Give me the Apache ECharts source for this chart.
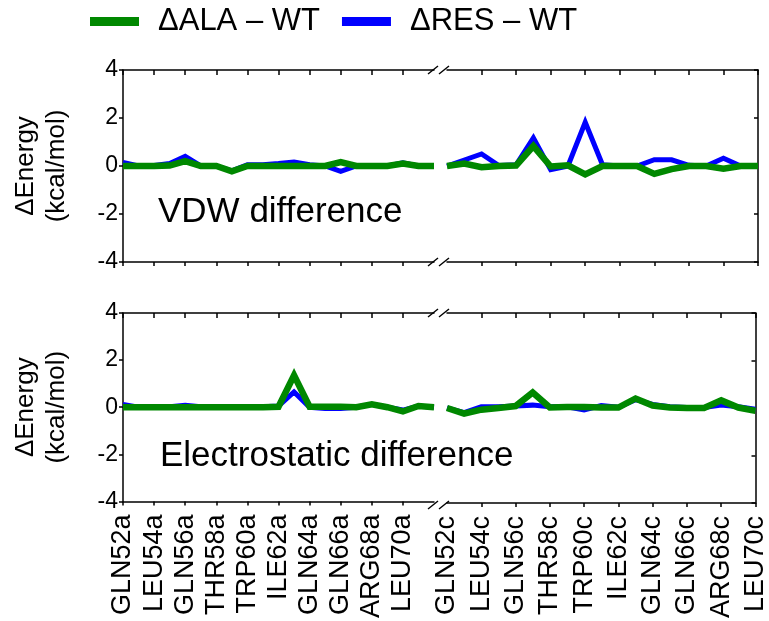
<!DOCTYPE html>
<head>
    <meta charset="utf-8"/>
    <style>
        html,body { margin:0; padding:0; background:#fff; }
    </style>
</head>
<body>
<div id="chart" style="width:769px;height:621px;"></div>

<script src="https://cdn.jsdelivr.net/npm/echarts@6/dist/echarts.min.js"></script>
<script type="text/javascript">

// residue numbers, chain a (left part) and chain c (right part)
var resA = [52,53,54,55,56,57,58,59,60,61,62,63,64,65,66,67,68,69,70,71,72];
var resC = [52,53,54,55,56,57,58,59,60,61,62,63,64,65,66,67,68,69,70];

// tick labels
var tickA = [52,54,56,58,60,62,64,66,68,70];
var labelA = ['GLN52a','LEU54a','GLN56a','THR58a','TRP60a','ILE62a','GLN64a','GLN66a','ARG68a','LEU70a'];
var tickC = [54,56,58,60,62,64,66,68,70];
var labelC = ['GLN52c','LEU54c','GLN56c','THR58c','TRP60c','ILE62c','GLN64c','GLN66c','ARG68c','LEU70c'];
var labelTickC = [52,54,56,58,60,62,64,66,68,70];

// VDW difference (kcal/mol)
var vdwAlaA = [0,0,0,0.02,0.2,0,0,-0.22,0,0,0,0,0,0,0.16,0,0,0,0.1,0,0];
var vdwResA = [0.15,0,0.02,0.1,0.4,0,0,-0.2,0.05,0.05,0.1,0.17,0.05,0,-0.22,0,0,0,0.13,0,0];
var vdwAlaC = [0,0.1,-0.05,0,0.02,0.83,-0.02,0.03,-0.35,0,0,0,-0.33,-0.13,0,0,-0.11,0,0];
var vdwResC = [0,0.25,0.5,0.02,0.05,1.17,-0.15,0,1.82,0.05,0,0,0.26,0.26,0.03,0,0.32,0,0];

// Electrostatic difference (kcal/mol)
var eleAlaA = [0,0,0,0,0,0,0,0,0,0,0.02,1.35,0.02,0.02,0.02,0,0.12,0,-0.18,0.05,0];
var eleResA = [0.12,0,0.02,0.02,0.08,0.02,0,0.02,0.02,0.02,0.05,0.65,0,-0.05,-0.05,0,0.12,0,-0.12,0.05,0];
var eleAlaC = [0,-0.24,-0.07,0,0.08,0.65,0.02,0.04,0.04,0.02,0.02,0.4,0.1,0.02,0,0,0.32,0.02,-0.12];
var eleResC = [0,-0.2,0.05,0.05,0.08,0.12,0.05,0.05,-0.08,0.1,0.03,0.35,0.15,0.05,0.02,0.02,0.12,0.05,-0.05];

var nameAla = '\u0394ALA \u2013 WT';
var nameRes = '\u0394RES \u2013 WT';

var FONT = "'Liberation Sans', Arial, sans-serif";
var GREEN = '#008800', BLUE = '#0000ff';

// layout
var LX = 123, RX = 447, W = 311;
var TOPS = [70, 313], H = 192;

function pairs(xs, ys) {
    var out = [];
    for (var i = 0; i < xs.length; i++) out.push([xs[i], ys[i]]);
    return out;
}

var grids = [], xAxes = [], yAxes = [], series = [], graphics = [];
var lineBlack = { color: '#000', width: 1.5 };

var panelData = [
    [vdwAlaA, vdwResA, vdwAlaC, vdwResC],
    [eleAlaA, eleResA, eleAlaC, eleResC]
];

for (var p = 0; p < 2; p++) {
    for (var s = 0; s < 2; s++) {
        var gi = p * 2 + s;
        grids.push({ left: s == 0 ? LX : RX, top: TOPS[p], width: W, height: H });

        var ticks = s == 0 ? tickA : tickC;
        var labTicks = s == 0 ? tickA : labelTickC;
        var labs = s == 0 ? labelA : labelC;

        xAxes.push({
            type: 'value', gridIndex: gi, position: 'bottom',
            min: 52, max: s == 0 ? 72 : 70, interval: 2,
            axisLine: { show: true, onZero: false, lineStyle: lineBlack },
            axisTick: { show: true, inside: false, length: 4, customValues: ticks, lineStyle: lineBlack },
            axisLabel: {
                show: p == 1, rotate: 90, margin: 13, customValues: labTicks,
                fontSize: 27, color: '#000', fontFamily: FONT,
                formatter: (function (lt, lb) {
                    return function (v) { var k = lt.indexOf(v); return k < 0 ? '' : lb[k]; };
                })(labTicks, labs)
            },
            splitLine: { show: false }
        });
        xAxes.push({
            type: 'value', gridIndex: gi, position: 'top',
            min: 52, max: s == 0 ? 72 : 70, interval: 2,
            axisLine: { show: true, onZero: false, lineStyle: lineBlack },
            axisTick: { show: true, inside: true, length: 5, customValues: ticks, lineStyle: lineBlack },
            axisLabel: { show: false },
            splitLine: { show: false }
        });

        if (s == 0) {
            yAxes.push({
                type: 'value', gridIndex: gi, position: 'left',
                min: -4, max: 4, interval: 2,
                name: '\u0394Energy\n(kcal/mol)', nameLocation: 'middle', nameRotate: 90, nameGap: 51,
                nameTextStyle: { fontSize: 26, lineHeight: 31, color: '#000', fontFamily: FONT },
                axisLine: { show: true, onZero: false, lineStyle: lineBlack },
                axisTick: { show: true, inside: false, length: 4, lineStyle: lineBlack },
                axisLabel: { fontSize: 23, margin: 5, color: '#000', fontFamily: FONT },
                splitLine: { show: false }
            });
        } else {
            yAxes.push({
                type: 'value', gridIndex: gi, position: 'right',
                min: -4, max: 4, interval: 2,
                axisLine: { show: true, onZero: false, lineStyle: lineBlack },
                axisTick: { show: true, inside: true, length: 4, lineStyle: lineBlack },
                axisLabel: { show: false },
                splitLine: { show: false }
            });
        }

        var xs = s == 0 ? resA : resC;
        var d = panelData[p];
        series.push({
            name: nameRes, type: 'line', xAxisIndex: gi * 2, yAxisIndex: gi,
            data: pairs(xs, s == 0 ? d[1] : d[3]), symbol: 'none', z: 2,
            lineStyle: { color: BLUE, width: 5, join: 'miter' }, itemStyle: { color: BLUE }
        });
        series.push({
            name: nameAla, type: 'line', xAxisIndex: gi * 2, yAxisIndex: gi,
            data: pairs(xs, s == 0 ? d[0] : d[2]), symbol: 'none', z: 3,
            lineStyle: { color: GREEN, width: 6.5, join: 'miter' }, itemStyle: { color: GREEN }
        });
    }
}

// axis break marks
[TOPS[0], TOPS[0] + H, TOPS[1], TOPS[1] + H].forEach(function (y) {
    [428, 439].forEach(function (x) {
        graphics.push({
            type: 'line', z: 10,
            shape: { x1: x, y1: y + 4, x2: x + 10, y2: y - 4 },
            style: { stroke: '#000', lineWidth: 1.5 }
        });
    });
});

var chart = echarts.init(document.getElementById('chart'));
chart.setOption({
    animation: false,
    backgroundColor: '#fff',
    legend: {
        data: [nameAla, nameRes], left: 90, top: 6, padding: 0,
        icon: 'rect', itemWidth: 49, itemHeight: 9, itemGap: 22,
        selectedMode: false,
        textStyle: { fontSize: 31, color: '#000', fontFamily: FONT, padding: [0, 0, 0, 14] }
    },
    title: [
        { text: 'VDW difference', left: 158, top: 195, padding: 0,
          textStyle: { fontSize: 35, fontWeight: 'normal', color: '#000', fontFamily: FONT } },
        { text: 'Electrostatic difference', left: 160, top: 439, padding: 0,
          textStyle: { fontSize: 35, fontWeight: 'normal', color: '#000', fontFamily: FONT } }
    ],
    grid: grids,
    xAxis: xAxes,
    yAxis: yAxes,
    series: series,
    graphic: graphics
});

</script>
</body>
